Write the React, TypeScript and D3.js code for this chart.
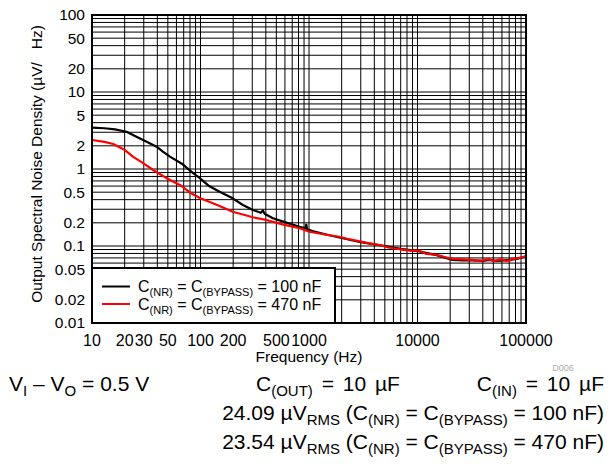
import React from 'react';
import * as d3 from 'd3';

// ---- data ----
const xTickValues = [10, 20, 30, 50, 100, 200, 500, 1000, 10000, 100000];
const yTickValues = [100, 50, 20, 10, 5, 2, 1, 0.5, 0.2, 0.1, 0.05, 0.02, 0.01];

const freq100 = [10, 13, 16.3, 20.8, 25.7, 31.9, 39.4, 45.3, 52.3, 66.8, 82.8, 98.6, 120, 150, 198, 246, 304, 360, 376, 390, 465, 618, 819, 930, 944, 960, 1100, 1500, 2000, 3000, 5000, 7000, 10000, 15000, 21000, 26000, 32000, 40000, 46000, 53000, 62000, 71000, 82000, 100000];
const noise100 = [3.44, 3.38, 3.27, 3.05, 2.63, 2.26, 1.95, 1.67, 1.45, 1.18, 0.92, 0.76, 0.6, 0.507, 0.416, 0.341, 0.293, 0.27, 0.29, 0.262, 0.229, 0.201, 0.178, 0.17, 0.19, 0.165, 0.155, 0.139, 0.127, 0.112, 0.1, 0.092, 0.086, 0.076, 0.066, 0.065, 0.065, 0.064, 0.066, 0.064, 0.065, 0.066, 0.068, 0.073];

const freq470 = [10, 13, 15.7, 20.1, 24, 29.6, 36.6, 48.6, 64.6, 82.8, 98.6, 150, 198, 304, 403, 570, 819, 1010, 1400, 1900, 2200, 3600, 4470, 5500, 8450, 10400, 11950, 14850, 18400, 21200, 26200, 32500, 36000, 40300, 43000, 46400, 50000, 53500, 57000, 61700, 66000, 71200, 76000, 82100, 90000, 100000];
const noise470 = [2.38, 2.25, 2.11, 1.76, 1.44, 1.19, 0.97, 0.76, 0.62, 0.48, 0.42, 0.331, 0.279, 0.236, 0.218, 0.191, 0.17, 0.153, 0.141, 0.132, 0.125, 0.108, 0.103, 0.095, 0.087, 0.087, 0.079, 0.077, 0.071, 0.068, 0.067, 0.066, 0.064, 0.065, 0.067, 0.067, 0.064, 0.065, 0.067, 0.066, 0.064, 0.065, 0.068, 0.069, 0.071, 0.074];

const seriesValues = ['100 nF', '470 nF'];
const seriesColors = ['#000000', '#ff0000'];

type Part = [string, boolean];
const condLeft: Part[] = [['V', false], ['I', true], [' – V', false], ['O', true], [' = 0.5 V', false]];
const condMid: Part[] = [['C', false], ['(OUT)', true], [' = 10 µF', false]];
const condRight: Part[] = [['C', false], ['(IN)', true], [' = 10 µF', false]];
const rmsValues = ['24.09', '23.54'];

const FONT = 'Liberation Sans, Arial, Helvetica, sans-serif';

function Rich(props: { x: number; y: number; parts: Part[]; size: number; subSize: number; shift: number; anchor?: string; fill?: string; wordSpacing?: number }) {
  const { x, y, parts, size, subSize, shift, anchor = 'start', fill = '#000', wordSpacing = 0 } = props;
  let cur = 0;
  return (
    <text x={x} y={y} fontSize={size} textAnchor={anchor} fill={fill} style={{ whiteSpace: 'pre', wordSpacing: wordSpacing + 'px' }}>
      {parts.map(([t, sub], i) => {
        const target = sub ? shift : 0;
        const dy = target - cur;
        cur = target;
        return (
          <tspan key={i} dy={dy} fontSize={sub ? subSize : size}>
            {t}
          </tspan>
        );
      })}
    </text>
  );
}

const legendParts = (v: string): Part[] => [['C', false], ['(NR)', true], [' = C', false], ['(BYPASS)', true], [' = ' + v, false]];
const rmsParts = (r: string, v: string): Part[] => [[r + ' µV', false], ['RMS', true], [' (C', false], ['(NR)', true], [' = C', false], ['(BYPASS)', true], [' = ' + v + ')', false]];

export default function App() {
  const W = 613, H = 464;
  const L = 92, R = 526, T = 15, B = 323;
  const x = d3.scaleLog().domain([10, 100000]).range([L, R]);
  const y = d3.scaleLog().domain([0.01, 100]).range([B, T]);
  const xGrid = x.ticks();
  const yGrid = y.ticks();
  const line = d3.line<[number, number]>().x(d => x(d[0])).y(d => y(d[1]));
  const d100 = line(freq100.map((f, i) => [f, noise100[i]] as [number, number])) || '';
  const d470 = line(freq470.map((f, i) => [f, noise470[i]] as [number, number])) || '';
  const fmt = (v: number) => String(v);

  return (
    <svg width={W} height={H} style={{ position: 'absolute', left: 0, top: 0, background: '#fff' }} fontFamily={FONT}>
      <rect x={0} y={0} width={W} height={H} fill="#fff" />
      {xGrid.map((v, i) => (
        <line key={'gx' + i} x1={x(v)} x2={x(v)} y1={T} y2={B} stroke="#000" strokeWidth={1} />
      ))}
      {yGrid.map((v, i) => (
        <line key={'gy' + i} x1={L} x2={R} y1={y(v)} y2={y(v)} stroke="#000" strokeWidth={1} />
      ))}
      <path d={d100} fill="none" stroke={seriesColors[0]} strokeWidth={2.2} strokeLinejoin="round" />
      <path d={d470} fill="none" stroke={seriesColors[1]} strokeWidth={2.2} strokeLinejoin="round" />
      {/* legend */}
      <rect x={L} y={268} width={243} height={B - 268} fill="#fff" stroke="#000" strokeWidth={2} />
      {seriesValues.map((v, i) => (
        <g key={'lg' + i}>
          <line x1={102} x2={130} y1={286.5 + i * 17.5} y2={286.5 + i * 17.5} stroke={seriesColors[i]} strokeWidth={2} />
          <Rich x={138} y={292 + i * 17.5} parts={legendParts(v)} size={16} subSize={11} shift={4} />
        </g>
      ))}
      <rect x={L} y={T} width={R - L} height={B - T} fill="none" stroke="#000" strokeWidth={2} />
      {/* ticks */}
      {xTickValues.map((v, i) => (
        <text key={'xt' + i} x={x(v)} y={346} fontSize={16} textAnchor="middle">{fmt(v)}</text>
      ))}
      {yTickValues.map((v, i) => (
        <text key={'yt' + i} x={85} y={y(v)} dy="0.35em" fontSize={15.5} textAnchor="end">{fmt(v)}</text>
      ))}
      <text x={(L + R) / 2} y={362} fontSize={15.5} textAnchor="middle">Frequency (Hz)</text>
      <text transform={`translate(42,${(T + B) / 2 - 5}) rotate(-90)`} fontSize={15.5} textAnchor="middle" style={{ whiteSpace: 'pre' }}>
        {'Output Spectral Noise Density (µV/\u00A0\u00A0\u00A0Hz)'}
      </text>
      <text x={563} y={371} fontSize={9} textAnchor="middle" fill="#aaa">D006</text>
      {/* conditions */}
      <Rich x={9} y={391} parts={condLeft} size={21} subSize={15} shift={5} />
      <Rich x={256} y={391} parts={condMid} size={21} subSize={15} shift={5} wordSpacing={3} />
      <Rich x={604} y={391} parts={condRight} size={21} subSize={15} shift={5} anchor="end" wordSpacing={3} />
      {rmsValues.map((r, i) => (
        <Rich key={'rms' + i} x={604} y={420 + i * 29} parts={rmsParts(r, seriesValues[i])} size={21} subSize={15} shift={5} anchor="end" />
      ))}
    </svg>
  );
}
